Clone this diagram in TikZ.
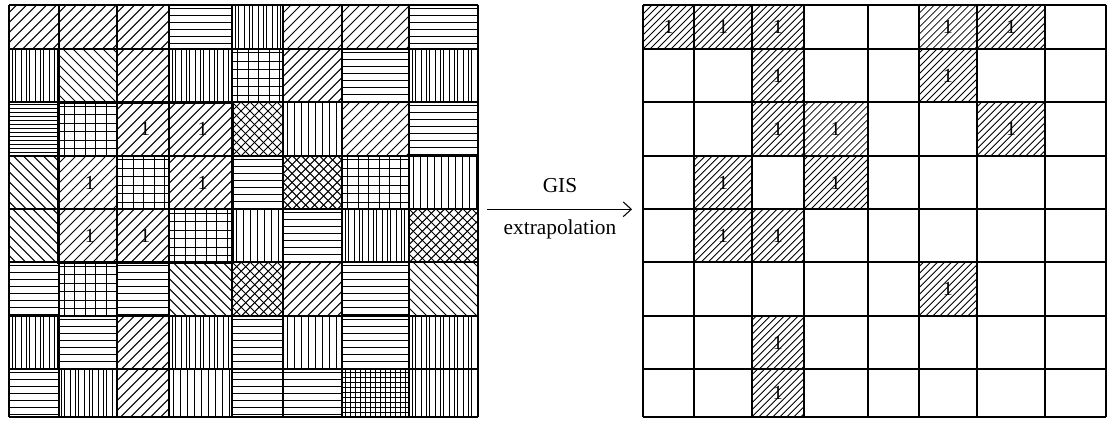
\documentclass[tikz,border=0pt]{standalone}
\usepackage{fontspec}
\setmainfont{Liberation Serif}
\usetikzlibrary{arrows.meta}
\def\colsL{{9,58.7,117,169,232.3,283.3,342.3,409.3,477.7}}
\def\colsR{{643.3,694,752,803.7,867.7,918.7,977,1045,1106}}
\def\rowsY{{4.7,48.7,102.3,155.7,209.3,262.3,316,369.3,416.7}}
% pattern macros: use \xa,\ya,\xb,\yb of the current cell
\newcommand\patD{\foreach \t in {-66,-56,...,78}{\draw[patline] (\xa+\t,\yb) -- ++(66,-66);}}
\newcommand\patB{\foreach \t in {-66,-56,...,78}{\draw[patline] (\xa+\t,\ya) -- ++(66,66);}}
\newcommand\patX{%
  \foreach \t in {-63,-54,...,75}{\draw[patline] (\xa+\t,\yb) -- ++(66,-66);}
  \foreach \t in {-63,-54,...,75}{\draw[patline] (\xa+\t,\ya) -- ++(66,66);}}
\newcommand\patH{\foreach \t in {3.5,10.5,...,60}{\draw[patline] (\xa,\ya+\t) -- (\xb,\ya+\t);}}
\newcommand\patHd{\foreach \t in {2,6,...,60}{\draw[patline] (\xa,\ya+\t) -- (\xb,\ya+\t);}}
\newcommand\patV{\foreach \t in {4,11,...,75}{\draw[patline] (\xa+\t,\ya) -- (\xa+\t,\yb);}}
\newcommand\patVp{\foreach \t in {3,17,...,75}{%
  \draw[patline] (\xa+\t,\ya) -- (\xa+\t,\yb);
  \draw[patline] (\xa+\t+3,\ya) -- (\xa+\t+3,\yb);
  \draw[patline] (\xa+\t+9,\ya) -- (\xa+\t+9,\yb);}}
\newcommand\patG{%
  \foreach \t in {5.5,16,...,75}{\draw[patline] (\xa+\t,\ya) -- (\xa+\t,\yb);}
  \foreach \t in {4,12.5,...,60}{\draw[patline] (\xa,\ya+\t) -- (\xb,\ya+\t);}}
\newcommand\patGf{%
  \foreach \t in {3,8,...,75}{\draw[patline] (\xa+\t,\ya) -- (\xa+\t,\yb);}
  \foreach \t in {3,8,...,60}{\draw[patline] (\xa,\ya+\t) -- (\xb,\ya+\t);}}
\newcommand\patR{\foreach \t in {-63,-56,...,75}{\draw[hatchline] (\xa+\t,\yb) -- ++(66,-66);}}
\begin{document}
\begin{tikzpicture}[x=0.75pt,y=-0.75pt,
  gridline/.style={line width=1.4pt,black},
  thickline/.style={line width=2pt,black},
  patline/.style={line width=0.75pt,black},
  hatchline/.style={line width=0.6pt,black},
  cellnum/.style={font=\fontsize{15}{15}\selectfont,inner sep=0pt},
  caption/.style={font=\fontsize{16}{18}\selectfont,inner sep=0pt},
  gridbox/.style={draw=none,inner sep=0pt,minimum height=309pt},
  arrowline/.style={line width=0.8pt,-{Straight Barb[length=6pt,width=11pt]}}]
\useasboundingbox (0,0) rectangle (1108,427);
% ---------- left grid patterns ----------
\foreach \p [count=\i from 0] in {%
D,D,D,H,Vp,D,D,H,%
Vp,B,D,Vp,G,D,H,Vp,%
Hd,G,D,D,X,V,D,H,%
B,D,G,D,H,X,G,V,%
B,D,D,G,V,H,Vp,X,%
H,G,H,B,X,D,H,B,%
Vp,H,D,Vp,H,V,H,Vp,%
H,Vp,D,V,H,H,Gf,Vp}{%
  \pgfmathtruncatemacro\c{mod(\i,8)}
  \pgfmathtruncatemacro\r{div(\i,8)}
  \pgfmathsetmacro\xa{\colsL[\c]}
  \pgfmathsetmacro\xb{\colsL[\c+1]}
  \pgfmathsetmacro\ya{\rowsY[\r]}
  \pgfmathsetmacro\yb{\rowsY[\r+1]}
  \begin{scope}
    \clip (\xa,\ya) rectangle (\xb,\yb);
    \csname pat\p\endcsname
  \end{scope}
}
% left grid lines
\foreach \k in {0,...,8}{
  \pgfmathsetmacro\xx{\colsL[\k]}
  \pgfmathsetmacro\yy{\rowsY[\k]}
  \draw[gridline] (\xx,4.7) -- (\xx,416.7);
  \draw[gridline] (9,\yy) -- (477.7,\yy);
}
\draw[thickline] (58.7,102.3) rectangle (232.3,262.3);
% left labels
\foreach \r/\c in {3/3,3/4,4/2,4/4,5/2,5/3}{
  \pgfmathsetmacro\xa{\colsL[\c-1]}
  \pgfmathsetmacro\xb{\colsL[\c]}
  \pgfmathsetmacro\ya{\rowsY[\r-1]}
  \pgfmathsetmacro\yb{\rowsY[\r]}
  \node[cellnum] (L\r-\c) at ({(\xa+\xb)/2+2},{(\ya+\yb)/2}) {1};
}
% ---------- right grid ----------
\foreach \r/\c in {1/1,1/2,1/3,1/6,1/7,2/3,2/6,3/3,3/4,3/7,4/2,4/4,5/2,5/3,6/6,7/3,8/3}{
  \pgfmathsetmacro\xa{\colsR[\c-1]}
  \pgfmathsetmacro\xb{\colsR[\c]}
  \pgfmathsetmacro\ya{\rowsY[\r-1]}
  \pgfmathsetmacro\yb{\rowsY[\r]}
  \begin{scope}
    \clip (\xa,\ya) rectangle (\xb,\yb);
    \patR
  \end{scope}
  \node[cellnum] (R\r-\c) at ({(\xa+\xb)/2},{(\ya+\yb)/2}) {1};
}
\foreach \k in {0,...,8}{
  \pgfmathsetmacro\xx{\colsR[\k]}
  \pgfmathsetmacro\yy{\rowsY[\k]}
  \draw[gridline] (\xx,4.7) -- (\xx,416.7);
  \draw[gridline] (643.3,\yy) -- (1106,\yy);
}
% grid frames as nodes for the connector
\node[gridbox,minimum width=351.5pt] (leftgrid) at (243.35,209.3) {};
\node[gridbox,minimum width=347pt] (rightgrid) at (874.65,209.3) {};
\draw[arrowline,shorten <=6.75pt,shorten >=8.25pt] (leftgrid.east) -- (rightgrid.west);
\node[caption] (gis) at (560,186) {GIS};
\node[caption] (extra) at (560,229) {extrapolation};
\end{tikzpicture}
\end{document}
